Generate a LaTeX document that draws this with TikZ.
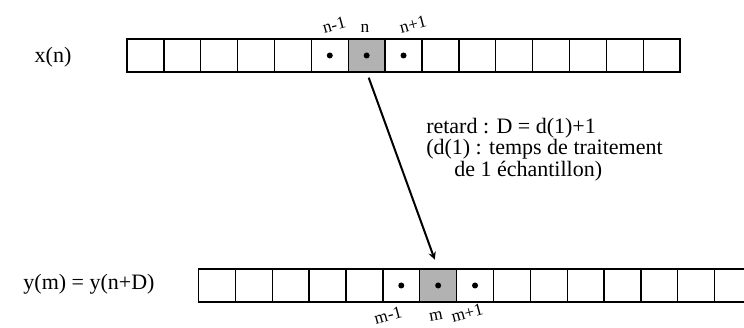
\documentclass[tikz,border=0pt]{standalone}
\usepackage{fontspec}
\setmainfont{Liberation Serif}
\usetikzlibrary{positioning}
\begin{document}
\begin{tikzpicture}[>=stealth,x=.75pt,y=.75pt,
	cell/.style={draw,line width=1pt,minimum width=27.65pt,minimum height=24.75pt,inner sep=0pt,outer sep=0pt},
	lbl/.style={font=\fontsize{13}{14}\selectfont,inner sep=0pt},
	txt/.style={font=\fontsize{16.5}{14.25}\selectfont,inner sep=0pt}]
	\useasboundingbox (0,0) rectangle (744,328);
	\clip (0,0) rectangle (744,328);
	\def\w{36.87}\def\xo{127}\def\yo{198.5}
	% les deux tampons
	\foreach \i in {0,...,14}{
		\ifnum\i=6 \def\c{black!30}\else\def\c{none}\fi
		\node[cell,fill=\c] (x\i) at ({\xo+\w*(\i+.5)},272.5) {};
		\node[cell,fill=\c] (y\i) at ({\yo+\w*(\i+.5)},42.5) {};
	}
	\foreach \i in {5,6,7}{\fill (x\i) circle (3);\fill (y\i) circle (3);}
	% indices
	\node[lbl,rotate=15] (nm) at (334,303) {n-1};
	\node[lbl] (n) at (365,300) {n};
	\node[lbl,rotate=15] (np) at (413,303.5) {n+1};
	\node[lbl,rotate=15] (mm) at (388,13) {m-1};
	\node[lbl,rotate=10] (m) at (436,12) {m};
	\node[lbl,rotate=15] (mp) at (467,15) {m+1};
	% signaux
	\node[txt] (xn) at (53,271) {x(n)};
	\node[txt] (ym) at (89,44) {y(m) = y(n+D)};
	\draw[->,line width=1.5pt,shorten <=4.5pt,shorten >=7.5pt] (x6.south) -- (y6.north);
	\node[txt,align=left,anchor=north west] (ret) at (426,210) {retard : D = d(1)+1\\(d(1) : temps de traitement\\\hspace{21pt}de 1 échantillon)};
\end{tikzpicture}
\end{document}
